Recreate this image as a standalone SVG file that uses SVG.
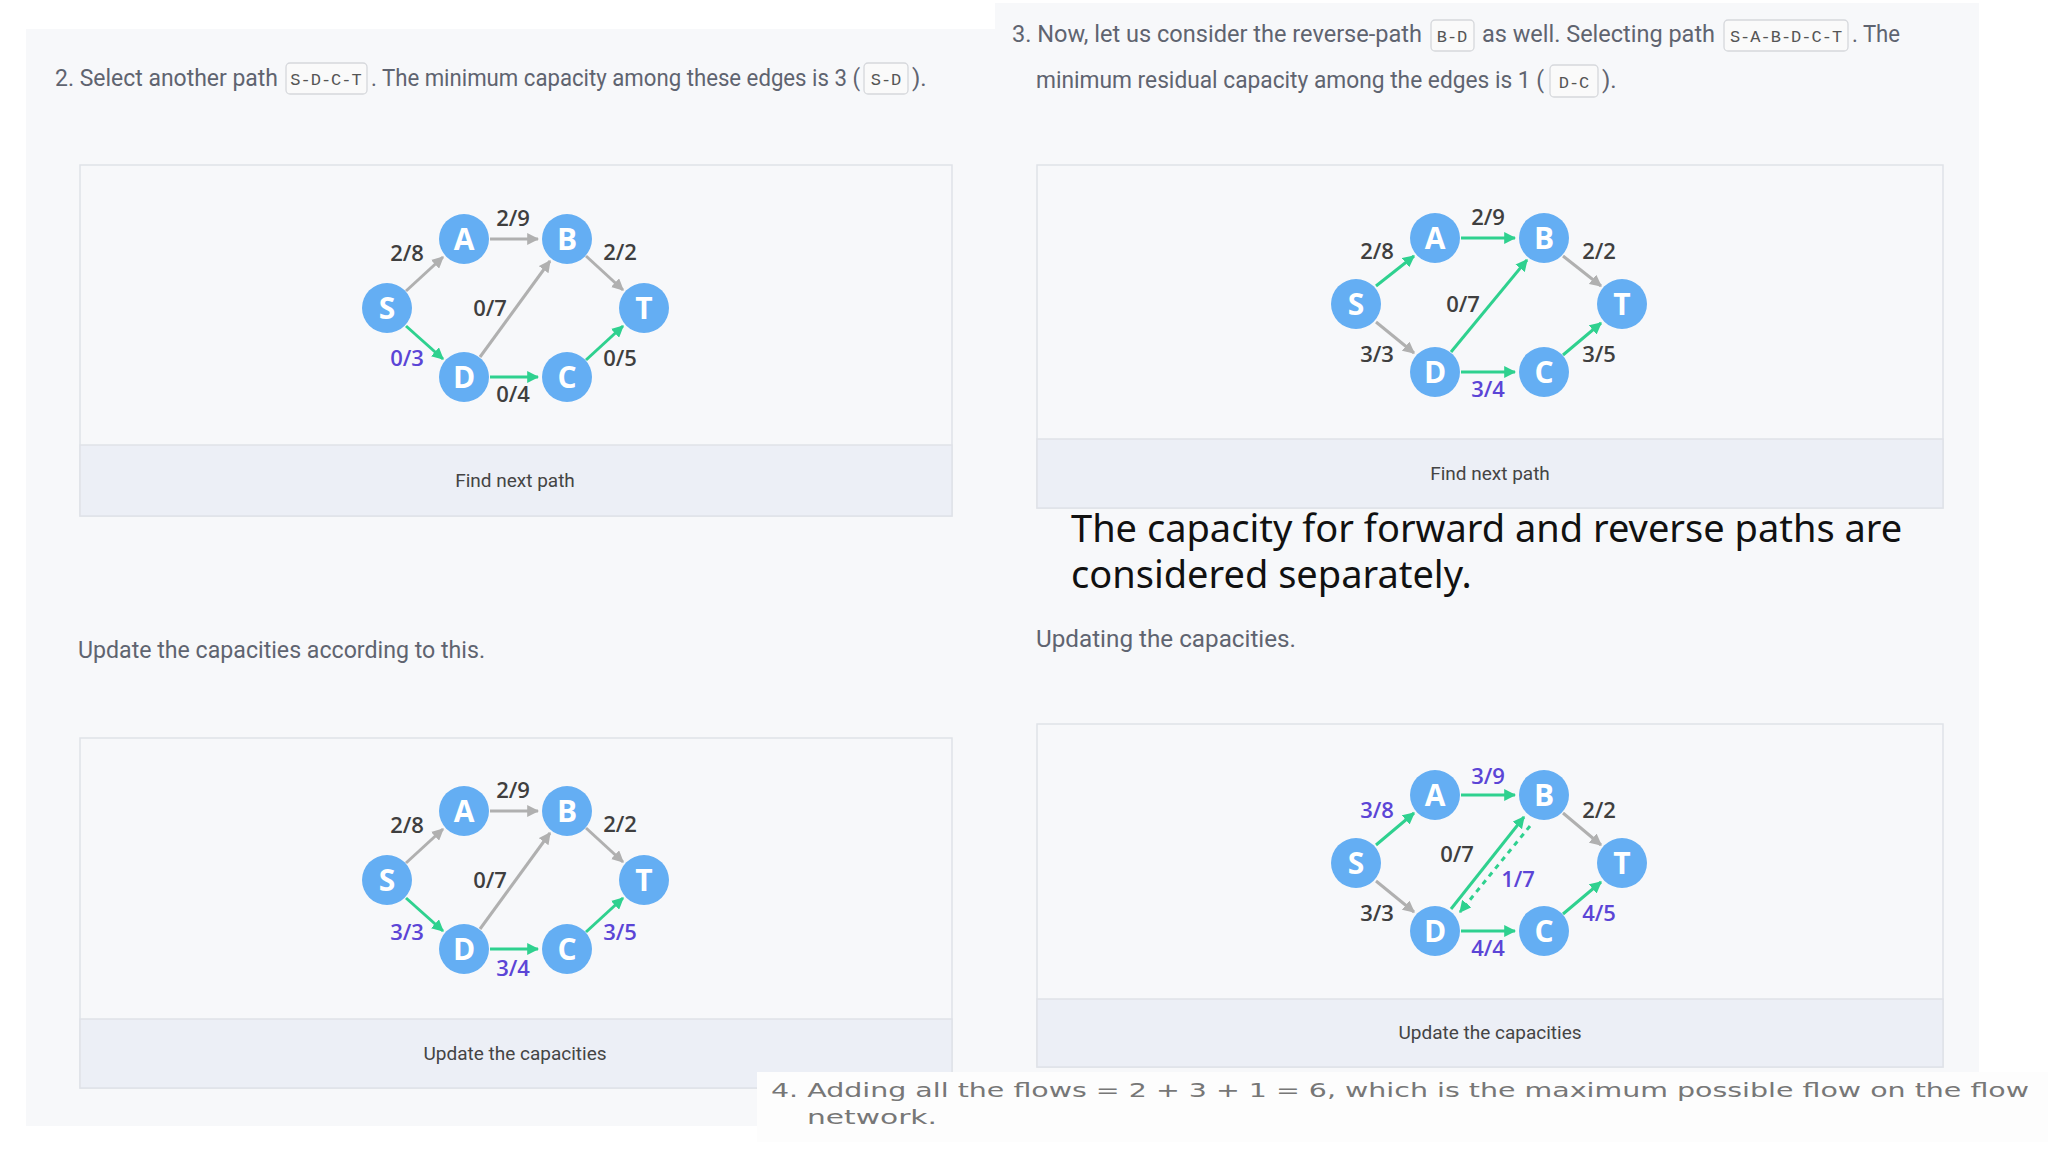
<svg xmlns="http://www.w3.org/2000/svg" width="2048" height="1152" viewBox="0 0 2048 1152">
<style>
.t{font-family:Roboto,"Liberation Sans",sans-serif;font-size:24px;fill:#5f6470}
.code{font-family:"Liberation Mono",monospace;font-size:17px;fill:#555}
.cb{fill:#fafafa;stroke:#d6d8dc;stroke-width:1.3}
.card{fill:#f7f8fa;stroke:#dfe2e8;stroke-width:1.5}
.foot{fill:#eceff6;stroke:#dfe2e8;stroke-width:1.5}
.ft{font-family:Roboto,"Liberation Sans",sans-serif;font-size:19px;fill:#444;text-anchor:middle}
.n circle{fill:#64aef3}
.n text{font-family:"Open Sans","Liberation Sans",sans-serif;font-weight:bold;font-size:30px;fill:#fff;text-anchor:middle}
.g{stroke:#b0b0b0;stroke-width:3;fill:none;marker-end:url(#ag)}
.e{stroke:#2fd18f;stroke-width:3;fill:none;marker-end:url(#ae)}
.ed{stroke:#2fd18f;stroke-width:3;fill:none;stroke-dasharray:5 5;marker-end:url(#ae)}
.l{font-family:"Open Sans","Liberation Sans",sans-serif;font-weight:600;font-size:22px;fill:#3f3f3f;text-anchor:middle}
.p{fill:#5b45d6}
</style>
<defs>
<marker id="ag" viewBox="0 0 10 10" refX="9" refY="5" markerWidth="4" markerHeight="4" orient="auto"><path d="M0,0L10,5L0,10z" fill="#b0b0b0"/></marker>
<marker id="ae" viewBox="0 0 10 10" refX="9" refY="5" markerWidth="4" markerHeight="4" orient="auto"><path d="M0,0L10,5L0,10z" fill="#2fd18f"/></marker>
</defs>
<rect width="2048" height="1152" fill="#fff"/>
<rect x="26" y="29" width="970" height="1097" fill="#f7f8fa"/>
<rect x="995" y="3" width="984" height="1072" fill="#f7f8fa"/>

<!-- cards -->
<g id="card1"><rect class="card" x="80" y="165" width="872" height="351"/><rect class="foot" x="80" y="445" width="872" height="71"/><text class="ft" x="515" y="487">Find next path</text></g>
<g id="card2"><rect class="card" x="80" y="738" width="872" height="350"/><rect class="foot" x="80" y="1019" width="872" height="69"/><text class="ft" x="515" y="1060">Update the capacities</text></g>
<g id="card3"><rect class="card" x="1037" y="165" width="906" height="343"/><rect class="foot" x="1037" y="439" width="906" height="69"/><text class="ft" x="1490" y="480">Find next path</text></g>
<g id="card4"><rect class="card" x="1037" y="724" width="906" height="343"/><rect class="foot" x="1037" y="999" width="906" height="68"/><text class="ft" x="1490" y="1039">Update the capacities</text></g>

<rect x="757" y="1072" width="1291" height="70" fill="#fdfdfd"/>

<!-- texts -->
<text class="t" x="55" y="86" textLength="223" lengthAdjust="spacingAndGlyphs">2. Select another path</text>
<rect class="cb" x="286" y="63" width="81" height="31" rx="4"/><text class="code" x="326" y="85" text-anchor="middle">S-D-C-T</text>
<text class="t" x="371" y="86" textLength="489" lengthAdjust="spacingAndGlyphs">. The minimum capacity among these edges is 3 (</text>
<rect class="cb" x="864" y="63" width="44" height="31" rx="4"/><text class="code" x="886" y="85" text-anchor="middle">S-D</text>
<text class="t" x="912" y="86">).</text>
<text class="t" x="78" y="658" textLength="407" lengthAdjust="spacingAndGlyphs">Update the capacities according to this.</text>

<text class="t" x="1012" y="42" textLength="410" lengthAdjust="spacingAndGlyphs">3. Now, let us consider the reverse-path</text>
<rect class="cb" x="1431" y="20" width="43" height="31" rx="4"/><text class="code" x="1452" y="42" text-anchor="middle">B-D</text>
<text class="t" x="1482" y="42" textLength="233" lengthAdjust="spacingAndGlyphs">as well. Selecting path</text>
<rect class="cb" x="1724" y="20" width="124" height="31" rx="4"/><text class="code" x="1786" y="42" text-anchor="middle">S-A-B-D-C-T</text>
<text class="t" x="1852" y="42" textLength="48" lengthAdjust="spacingAndGlyphs">. The</text>
<text class="t" x="1036" y="88" textLength="508" lengthAdjust="spacingAndGlyphs">minimum residual capacity among the edges is 1 (</text>
<rect class="cb" x="1550" y="65" width="48" height="32" rx="4"/><text class="code" x="1574" y="88" text-anchor="middle">D-C</text>
<text class="t" x="1602" y="88">).</text>
<text x="1071" y="542" style="font-family:'Noto Sans','Open Sans',sans-serif;font-size:38px;fill:#111">The capacity for forward and reverse paths are</text>
<text x="1071" y="588" style="font-family:'Noto Sans','Open Sans',sans-serif;font-size:38px;fill:#111">considered separately.</text>
<text class="t" x="1036" y="647" textLength="260" lengthAdjust="spacingAndGlyphs">Updating the capacities.</text>
<text x="771" y="1097" textLength="1258" lengthAdjust="spacingAndGlyphs" style="font-family:'DejaVu Sans',sans-serif;font-size:20px;fill:#777">4. Adding all the flows = 2 + 3 + 1 = 6, which is the maximum possible flow on the flow</text>
<text x="807" y="1124" textLength="130" lengthAdjust="spacingAndGlyphs" style="font-family:'DejaVu Sans',sans-serif;font-size:20px;fill:#777">network.</text>

<!-- connectors -->
<g id="connectors">
<line class="g" x1="406" y1="291" x2="443" y2="257"/>
<line class="g" x1="490" y1="239" x2="538" y2="239"/>
<line class="g" x1="586" y1="256" x2="623" y2="290"/>
<line class="g" x1="480" y1="357" x2="550" y2="261"/>
<line class="e" x1="406" y1="326" x2="443" y2="359"/>
<line class="e" x1="490" y1="377" x2="538" y2="377"/>
<line class="e" x1="586" y1="360" x2="623" y2="326"/>
<text class="l" x="407" y="261">2/8</text><text class="l" x="513" y="226">2/9</text><text class="l" x="620" y="260">2/2</text>
<text class="l" x="490" y="316">0/7</text><text class="l p" x="407" y="366">0/3</text><text class="l" x="513" y="402">0/4</text><text class="l" x="620" y="366">0/5</text>
<line class="g" x1="406" y1="863" x2="443" y2="829"/>
<line class="g" x1="490" y1="811" x2="538" y2="811"/>
<line class="g" x1="586" y1="828" x2="623" y2="862"/>
<line class="g" x1="480" y1="929" x2="550" y2="833"/>
<line class="e" x1="406" y1="898" x2="443" y2="931"/>
<line class="e" x1="490" y1="949" x2="538" y2="949"/>
<line class="e" x1="586" y1="932" x2="623" y2="898"/>
<text class="l" x="407" y="833">2/8</text><text class="l" x="513" y="798">2/9</text><text class="l" x="620" y="832">2/2</text>
<text class="l" x="490" y="888">0/7</text><text class="l p" x="407" y="940">3/3</text><text class="l p" x="513" y="976">3/4</text><text class="l p" x="620" y="940">3/5</text>
<line class="e" x1="1376" y1="286" x2="1414" y2="256"/>
<line class="g" x1="1376" y1="322" x2="1414" y2="353"/>
<line class="e" x1="1461" y1="238" x2="1515" y2="238"/>
<line class="g" x1="1563" y1="256" x2="1601" y2="286"/>
<line class="e" x1="1451" y1="352" x2="1527" y2="260"/>
<line class="e" x1="1461" y1="372" x2="1515" y2="372"/>
<line class="e" x1="1563" y1="355" x2="1601" y2="323"/>
<text class="l" x="1377" y="259">2/8</text><text class="l" x="1488" y="225">2/9</text><text class="l" x="1599" y="259">2/2</text>
<text class="l" x="1463" y="312">0/7</text><text class="l" x="1377" y="362">3/3</text><text class="l p" x="1488" y="397">3/4</text><text class="l" x="1599" y="362">3/5</text>
<line class="e" x1="1376" y1="845" x2="1414" y2="813"/>
<line class="g" x1="1376" y1="881" x2="1414" y2="912"/>
<line class="e" x1="1461" y1="795" x2="1515" y2="795"/>
<line class="g" x1="1563" y1="813" x2="1601" y2="845"/>
<line class="e" x1="1451" y1="909" x2="1524" y2="817"/>
<line class="ed" x1="1530" y1="826" x2="1460" y2="912"/>
<line class="e" x1="1461" y1="931" x2="1515" y2="931"/>
<line class="e" x1="1563" y1="914" x2="1601" y2="882"/>
<text class="l p" x="1377" y="818">3/8</text><text class="l p" x="1488" y="784">3/9</text><text class="l" x="1599" y="818">2/2</text>
<text class="l" x="1457" y="862">0/7</text><text class="l p" x="1518" y="887">1/7</text><text class="l" x="1377" y="921">3/3</text><text class="l p" x="1488" y="956">4/4</text><text class="l p" x="1599" y="921">4/5</text>
</g>

<g id="g1S" class="n"><circle cx="387" cy="308" r="25"/><text x="387" y="319">S</text></g>
<g id="g1A" class="n"><circle cx="464" cy="239" r="25"/><text x="464" y="250">A</text></g>
<g id="g1B" class="n"><circle cx="567" cy="239" r="25"/><text x="567" y="250">B</text></g>
<g id="g1T" class="n"><circle cx="644" cy="308" r="25"/><text x="644" y="319">T</text></g>
<g id="g1D" class="n"><circle cx="464" cy="377" r="25"/><text x="464" y="388">D</text></g>
<g id="g1C" class="n"><circle cx="567" cy="377" r="25"/><text x="567" y="388">C</text></g>
<g id="g2S" class="n"><circle cx="387" cy="880" r="25"/><text x="387" y="891">S</text></g>
<g id="g2A" class="n"><circle cx="464" cy="811" r="25"/><text x="464" y="822">A</text></g>
<g id="g2B" class="n"><circle cx="567" cy="811" r="25"/><text x="567" y="822">B</text></g>
<g id="g2T" class="n"><circle cx="644" cy="880" r="25"/><text x="644" y="891">T</text></g>
<g id="g2D" class="n"><circle cx="464" cy="949" r="25"/><text x="464" y="960">D</text></g>
<g id="g2C" class="n"><circle cx="567" cy="949" r="25"/><text x="567" y="960">C</text></g>
<g id="g3S" class="n"><circle cx="1356" cy="304" r="25"/><text x="1356" y="315">S</text></g>
<g id="g3A" class="n"><circle cx="1435" cy="238" r="25"/><text x="1435" y="249">A</text></g>
<g id="g3B" class="n"><circle cx="1544" cy="238" r="25"/><text x="1544" y="249">B</text></g>
<g id="g3T" class="n"><circle cx="1622" cy="304" r="25"/><text x="1622" y="315">T</text></g>
<g id="g3D" class="n"><circle cx="1435" cy="372" r="25"/><text x="1435" y="383">D</text></g>
<g id="g3C" class="n"><circle cx="1544" cy="372" r="25"/><text x="1544" y="383">C</text></g>
<g id="g4S" class="n"><circle cx="1356" cy="863" r="25"/><text x="1356" y="874">S</text></g>
<g id="g4A" class="n"><circle cx="1435" cy="795" r="25"/><text x="1435" y="806">A</text></g>
<g id="g4B" class="n"><circle cx="1544" cy="795" r="25"/><text x="1544" y="806">B</text></g>
<g id="g4T" class="n"><circle cx="1622" cy="863" r="25"/><text x="1622" y="874">T</text></g>
<g id="g4D" class="n"><circle cx="1435" cy="931" r="25"/><text x="1435" y="942">D</text></g>
<g id="g4C" class="n"><circle cx="1544" cy="931" r="25"/><text x="1544" y="942">C</text></g>
</svg>
